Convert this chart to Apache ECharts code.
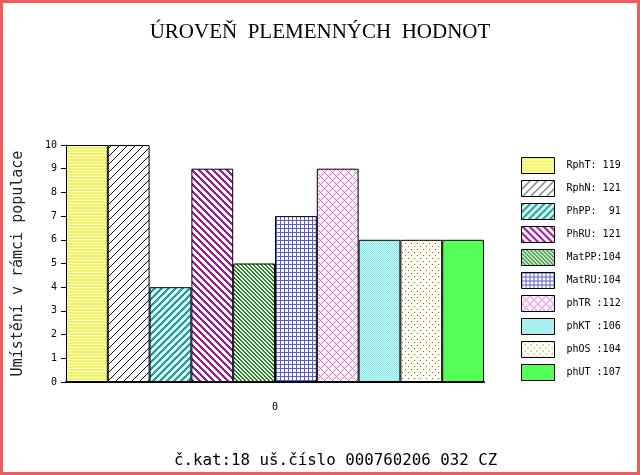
<!DOCTYPE html>
<html>
<head>
<meta charset="utf-8">
<script src="https://cdn.jsdelivr.net/npm/echarts@6/dist/echarts.min.js"></script>
<style>
  html, body { margin: 0; padding: 0; background: #fff; }
  #chart { width: 640px; height: 475px; }
</style>
</head>
<body>
<div id="chart"></div>
<script>
// data
let seriesNames = ['RphT', 'RphN', 'PhPP', 'PhRU', 'MatPP', 'MatRU', 'phTR', 'phKT', 'phOS', 'phUT']
let legendLabels = ['RphT: 119', 'RphN: 121', 'PhPP:  91', 'PhRU: 121', 'MatPP:104', 'MatRU:104', 'phTR :112', 'phKT :106', 'phOS :104', 'phUT :107']
let ranks = [10, 10, 4, 9, 5, 7, 9, 6, 6, 6]
let categories = ['0']
let yTicks = [0, 1, 2, 3, 4, 5, 6, 7, 8, 9, 10]

// small pixel tiles used as fill patterns
function tile(w, h, fn) {
    let c = document.createElement('canvas')
    c.width = w
    c.height = h
    let ctx = c.getContext('2d')
    for (let y = 0; y < h; y++) {
        for (let x = 0; x < w; x++) {
            ctx.fillStyle = fn(x, y)
            ctx.fillRect(x, y, 1, 1)
        }
    }
    return { image: c, repeat: 'repeat' }
}
function mod(a, n) { return ((a % n) + n) % n }

let fills = [
    tile(1, 3, (x, y) => y % 3 < 2 ? '#f3f366' : '#ffffcc'),
    tile(8, 8, (x, y) => mod(x + y, 8) == 0 ? '#000022' : '#ffffff'),
    tile(7, 7, (x, y) => mod(x + y, 7) < 3 ? '#2e9a98' : '#d6ffff'),
    tile(7, 7, (x, y) => mod(x - y, 7) < 3 ? '#991a99' : '#ffffff'),
    tile(4, 4, (x, y) => mod(x - y, 4) < 2 ? '#1f8c1f' : '#ffffff'),
    tile(4, 4, (x, y) => (x % 4 == 0 || y % 4 == 0) ? '#5b5bd0' : '#ffffff'),
    tile(8, 8, (x, y) => (mod(x + y, 8) == 0 || mod(x - y, 8) == 0) ? '#cc77cc' : '#fff2ff'),
    tile(2, 2, (x, y) => (x + y) % 2 == 0 ? '#8fe8e8' : '#c4f7f7'),
    tile(6, 6, (x, y) => ((x == 0 && y == 0) || (x == 3 && y == 3)) ? '#8a5a33' : '#fffff2'),
    '#55ff55'
]

let mono = 'DejaVu Sans Mono'

let box = document.querySelector('#chart')
let myChart = echarts.init(box)
let option = {
    backgroundColor: '#ffffff',
    animation: false,
    title: [
        {
            text: 'ÚROVEŇ  PLEMENNÝCH  HODNOT',
            left: 'center',
            top: 17,
            textStyle: { fontFamily: 'Liberation Serif', fontWeight: 'normal', fontSize: 21, color: '#000' }
        },
        {
            text: 'č.kat:18 uš.číslo 000760206 032 CZ',
            left: 169,
            top: 448,
            textStyle: { fontFamily: mono, fontWeight: 'normal', fontSize: 15.8, color: '#000' }
        }
    ],
    graphic: [{
        type: 'rect',
        shape: { x: 0, y: 0, width: 640, height: 475 },
        style: { fill: 'none', stroke: '#f05c5c', lineWidth: 6 },
        silent: true,
        z: 100
    }],
    grid: { left: 66, right: 156, top: 145, bottom: 93 },
    legend: {
        orient: 'vertical',
        left: 521,
        top: 157,
        padding: 0,
        itemWidth: 33,
        itemHeight: 16,
        itemGap: 6,
        icon: 'rect',
        itemStyle: { borderColor: '#000', borderWidth: 1 },
        textStyle: { fontFamily: mono, fontSize: 10, color: '#000', padding: [0, 0, 0, 7] },
        formatter: name => legendLabels[seriesNames.indexOf(name)],
        data: seriesNames
    },
    xAxis: {
        type: 'category',
        data: categories,
        axisLine: { lineStyle: { color: '#000', width: 2 } },
        axisTick: { show: false },
        axisLabel: { fontFamily: mono, fontSize: 10, color: '#000', margin: 20 }
    },
    yAxis: {
        type: 'value',
        min: yTicks[0],
        max: yTicks[yTicks.length - 1],
        interval: 1,
        name: 'Umístění v rámci populace',
        nameLocation: 'middle',
        nameGap: 40,
        nameTextStyle: { fontFamily: mono, fontSize: 15, color: '#222' },
        axisLine: { show: true, lineStyle: { color: '#000', width: 1 } },
        axisTick: { show: true, length: 5, lineStyle: { color: '#000' } },
        axisLabel: { fontFamily: mono, fontSize: 10, color: '#000', margin: 9 },
        splitLine: { show: false }
    },
    series: seriesNames.map((n, i) => ({
        name: n,
        type: 'bar',
        data: [ranks[i]],
        barGap: '0%',
        barCategoryGap: '0%',
        itemStyle: { color: fills[i], borderColor: '#000', borderWidth: 1 }
    }))
}
myChart.setOption(option)
</script>
</body>
</html>
